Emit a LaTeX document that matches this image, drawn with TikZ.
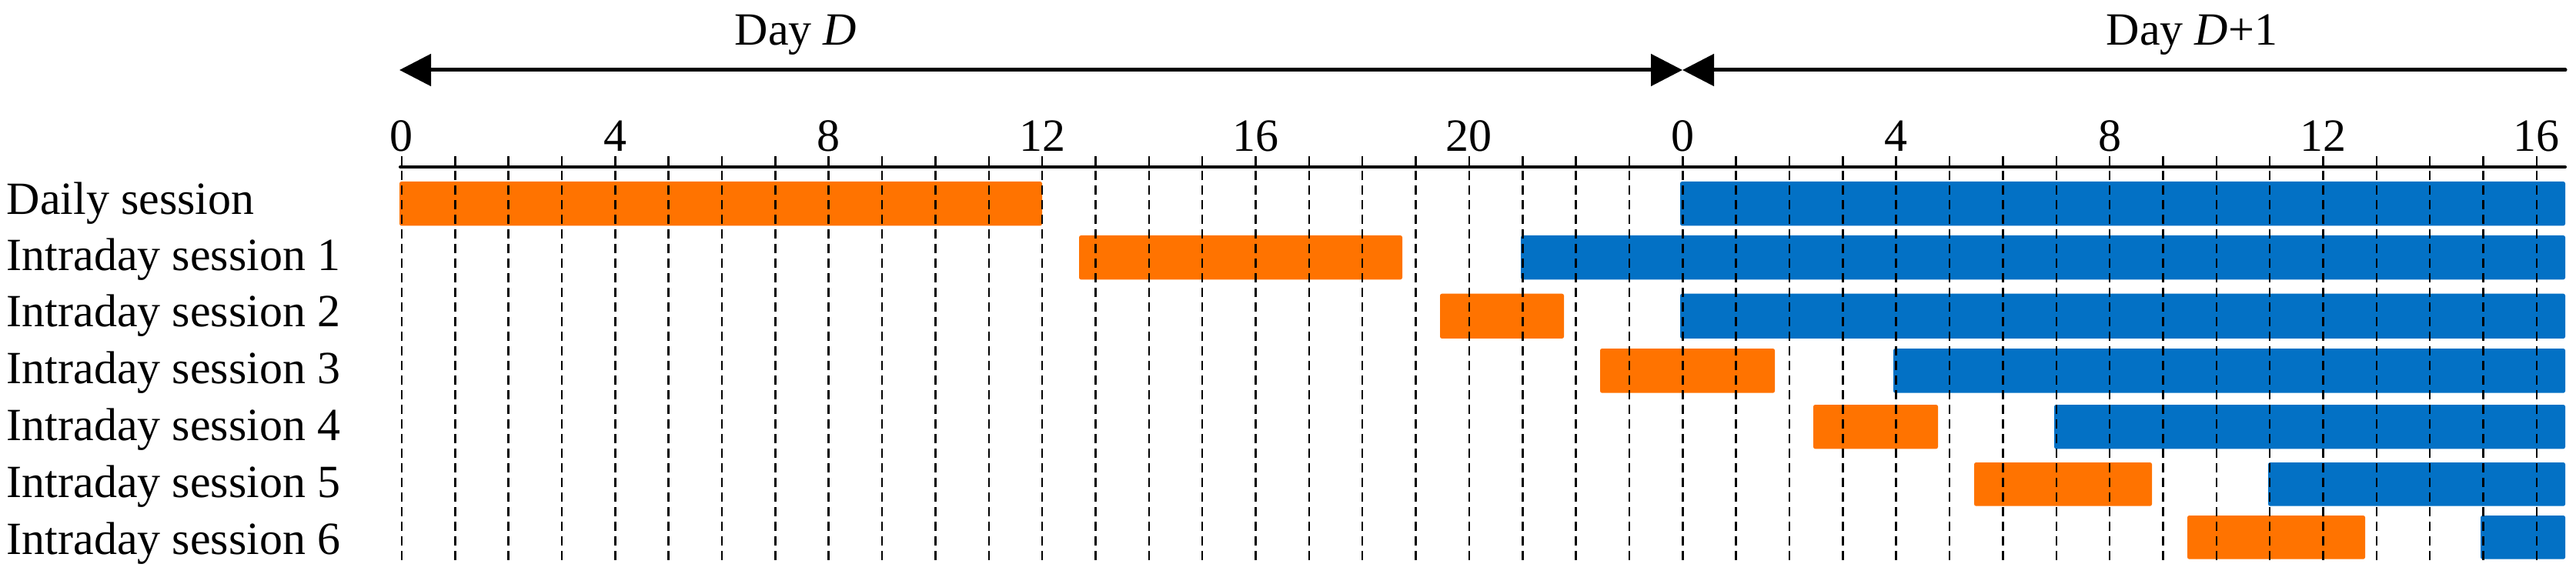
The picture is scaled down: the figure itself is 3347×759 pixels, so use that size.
\documentclass[tikz,border=0pt]{standalone}
\usepackage{fontspec}
\setmainfont{Liberation Serif}
\usetikzlibrary{arrows.meta}
\definecolor{barorange}{RGB}{255,115,0}
\definecolor{barblue}{RGB}{3,113,197}
\begin{document}
\begin{tikzpicture}[x=0.2pt,y=-0.2pt,
  lbl/.style={font=\fontsize{12}{14}\selectfont, inner sep=0pt},
  rowlbl/.style={lbl, anchor=base west},
  ticklbl/.style={lbl, anchor=base},
  gridline/.style={line width=0.5pt, dash pattern=on 2.4pt off 1.4pt},
  axisline/.style={line width=0.8pt, line cap=round},
  dayarrow/.style={line width=1pt, line cap=round},
  tip/.tip={Triangle[length=8.2pt,width=8.2pt]},
  obar/.style={fill=barorange, rounded corners=0.5pt},
  bbar/.style={fill=barblue, rounded corners=0.5pt}]
\useasboundingbox (0,0) rectangle (3347,759);

% bars
\fill[obar] (519,236) rectangle (1354,293.3);
\fill[bbar] (2183,236) rectangle (3333,293.3);
\fill[obar] (1402,306) rectangle (1822,363.3);
\fill[bbar] (1976,306) rectangle (3333,363.3);
\fill[obar] (1871,381.7) rectangle (2032,440);
\fill[bbar] (2183,381.7) rectangle (3333,440);
\fill[obar] (2079,453) rectangle (2306,510.7);
\fill[bbar] (2460,453) rectangle (3333,510.7);
\fill[obar] (2356,526) rectangle (2518,583.3);
\fill[bbar] (2669,526) rectangle (3333,583.3);
\fill[obar] (2565,601) rectangle (2796,657.7);
\fill[bbar] (2947,601) rectangle (3333,657.7);
\fill[obar] (2842,670) rectangle (3073,726.7);
\fill[bbar] (3223,670) rectangle (3333,726.7);

% hour grid
\foreach \h in {0,...,40}
  \draw[gridline] ({521.9+69.35*\h},203) -- ({521.9+69.35*\h},731);

% time axis
\coordinate (axL) at (520,217);
\coordinate (axR) at (3333,217);
\draw[axisline] (axL) -- (axR);

% tick labels
\foreach \h/\t in {0/0,4/4,8/8,12/12,16/16,20/20,24/0,28/4,32/8,36/12,40/16}
  \node[ticklbl] (t\h) at ({521.9+69.35*\h},196.7) {\t};

% day arrows
\coordinate (a0) at (519,91);
\coordinate (a24) at (2186,91);
\coordinate (aend) at (3333,91);
\draw[dayarrow, tip-tip] (a0) -- (a24);
\draw[dayarrow, tip-] (a24) -- (aend);
\node[ticklbl] (dayD) at (1034,58.3) {Day \textit{D}};
\node[ticklbl] (dayD1) at (2848,58.3) {Day \textit{D}+1};

% row labels
\node[rowlbl] (r0) at (8,278.3) {Daily session};
\node[rowlbl] (r1) at (8,351.7) {Intraday session 1};
\node[rowlbl] (r2) at (8,425) {Intraday session 2};
\node[rowlbl] (r3) at (8,498.3) {Intraday session 3};
\node[rowlbl] (r4) at (8,572.7) {Intraday session 4};
\node[rowlbl] (r5) at (8,646.7) {Intraday session 5};
\node[rowlbl] (r6) at (8,720) {Intraday session 6};
\end{tikzpicture}
\end{document}
